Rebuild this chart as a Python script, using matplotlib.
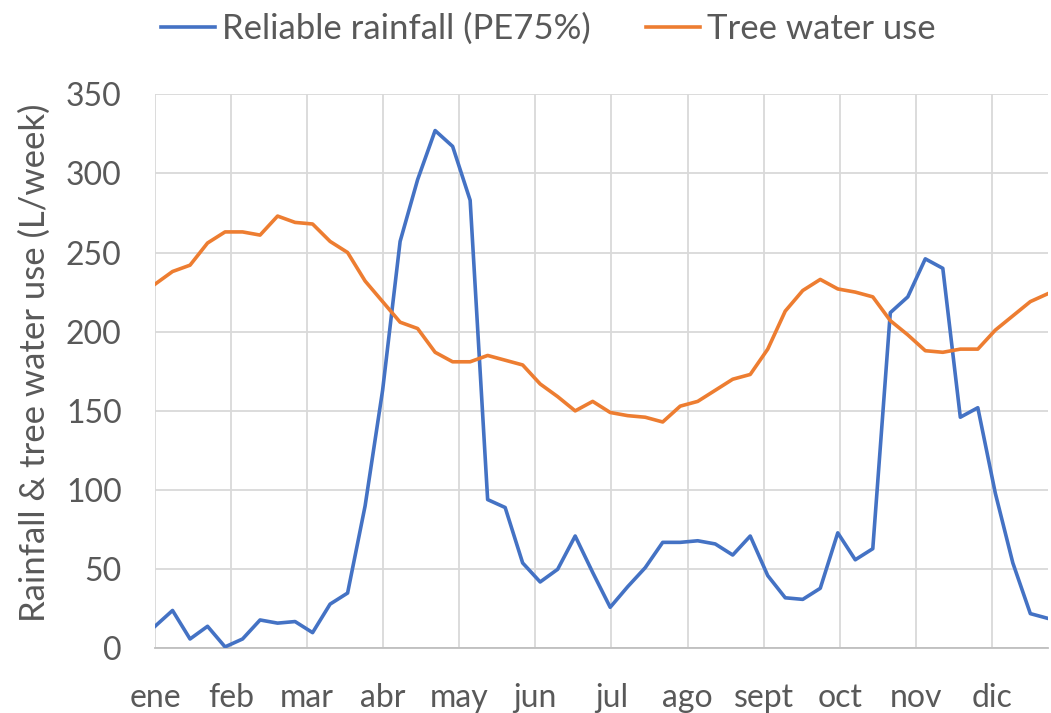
import numpy as np
import matplotlib
matplotlib.use("Agg")
import matplotlib.pyplot as plt

# weekly values (52 weeks)
rainfall = [14, 24, 6, 14, 1, 6, 18, 16, 17, 10, 28, 35, 90, 163, 257, 296, 327, 317, 283,
            94, 89, 54, 42, 50, 71, 48, 26, 39, 51, 67, 67, 68, 66, 59, 71, 46, 32, 31, 38,
            73, 56, 63, 212, 222, 246, 240, 146, 152, 98, 54, 22, 19]
tree_use = [230, 238, 242, 256, 263, 263, 261, 273, 269, 268, 257, 250, 232, 219, 206, 202,
            187, 181, 181, 185, 182, 179, 167, 159, 150, 156, 149, 147, 146, 143, 153, 156,
            163, 170, 173, 189, 213, 226, 233, 227, 225, 222, 207, 198, 188, 187, 189, 189,
            201, 210, 219, 224]
months = ['ene', 'feb', 'mar', 'abr', 'may', 'jun', 'jul', 'ago', 'sept', 'oct', 'nov', 'dic']

weeks = np.arange(len(rainfall))
month_pos = np.arange(12) * 365 / 12 / 7

plt.rcParams['font.family'] = ['Lato', 'DejaVu Sans']
txt = '#595959'

fig = plt.figure(figsize=(10.51, 7.13), dpi=100)
ax = fig.add_axes([0.1475, 0.0905, 0.8495, 0.7775])

ax.plot(weeks, rainfall, color='#4472C4', lw=2.6, label='Reliable rainfall (PE75%)', zorder=3)
ax.plot(weeks, tree_use, color='#ED7D31', lw=2.6, label='Tree water use', zorder=3)

ax.set_xlim(0, 51)
ax.set_ylim(0, 350)
ax.set_yticks(range(0, 351, 50))
ax.set_xticks(month_pos)
ax.set_xticklabels(months)
ax.grid(True, color='#d9d9d9', lw=1.3)
ax.set_axisbelow(True)
for s in ['top', 'right', 'left']:
    ax.spines[s].set_visible(False)
ax.spines['bottom'].set_color('#bfbfbf')
ax.spines['bottom'].set_linewidth(1.3)
ax.tick_params(length=0, labelsize=23, colors=txt)
ax.tick_params(axis='x', pad=25)
ax.tick_params(axis='y', pad=24)
ax.set_ylabel('Rainfall & tree water use (L/week)', fontsize=25, color=txt)
ax.yaxis.set_label_coords(-0.117, 0.515)

fig.legend(loc='center', bbox_to_anchor=(0.522, 0.96), ncol=2, frameon=False,
           fontsize=25, labelcolor=txt, handlelength=1.55, handletextpad=0.2, columnspacing=1.6)

fig.savefig('out.png', dpi=100)
